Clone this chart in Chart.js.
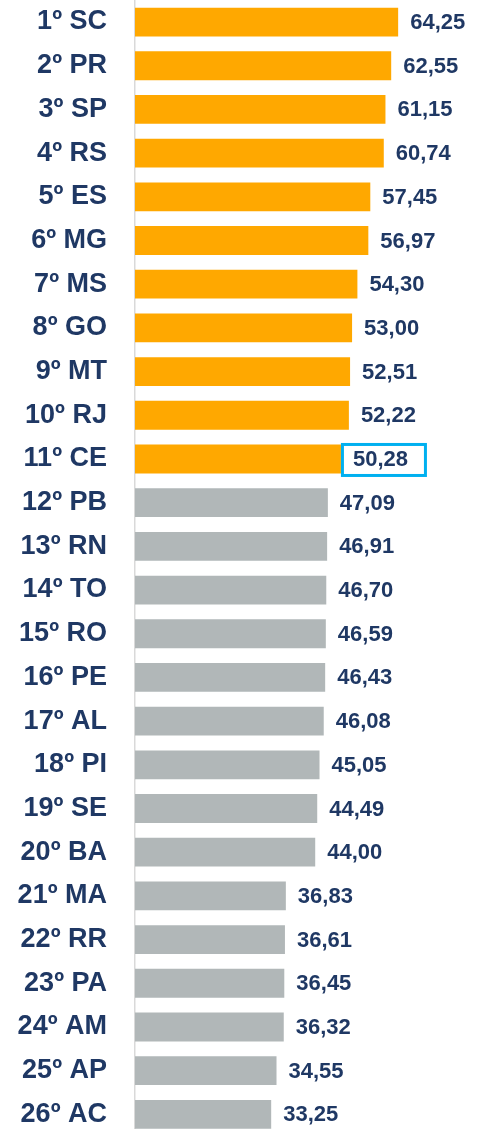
<!DOCTYPE html>
<html>
<head>
<meta charset="utf-8">
<script src="https://cdn.jsdelivr.net/npm/chart.js@4/dist/chart.umd.min.js"></script>
<style>
  html, body { margin: 0; padding: 0; background: #fff; overflow: hidden; }
  #wrap { position: relative; width: 477px; height: 1168.4px; margin-top: -16.2px; }
</style>
</head>
<body>
<div id="wrap"><canvas id="c"></canvas></div>
<script>
const categories = ["1º SC","2º PR","3º SP","4º RS","5º ES","6º MG","7º MS","8º GO","9º MT","10º RJ","11º CE","12º PB","13º RN","14º TO","15º RO","16º PE","17º AL","18º PI","19º SE","20º BA","21º MA","22º RR","23º PA","24º AM","25º AP","26º AC"];
const values = [64.25,62.55,61.15,60.74,57.45,56.97,54.30,53.00,52.51,52.22,50.28,47.09,46.91,46.70,46.59,46.43,46.08,45.05,44.49,44.00,36.83,36.61,36.45,36.32,34.55,33.25];
const topGroupCount = 11;
const highlightIndex = 10;

const ORANGE = '#FFA800';
const GRAY = '#B1B7B8';
const NAVY = '#1F3864';
const CYAN = '#00B0F0';
const FONT = '"Liberation Sans", Arial, sans-serif';

const barColors = values.map((v, i) => i < topGroupCount ? ORANGE : GRAY);

const valueLabels = {
  id: 'valueLabels',
  afterDatasetsDraw(chart) {
    const ctx = chart.ctx;
    const meta = chart.getDatasetMeta(0);
    ctx.save();
    ctx.font = 'bold 22px ' + FONT;
    ctx.fillStyle = NAVY;
    ctx.textBaseline = 'middle';
    ctx.textAlign = 'left';
    meta.data.forEach((bar, i) => {
      const txt = values[i].toFixed(2).replace('.', ',');
      ctx.fillText(txt, bar.x + 12, bar.y + 1);
      if (i === highlightIndex) {
        ctx.strokeStyle = CYAN;
        ctx.lineWidth = 3;
        ctx.strokeRect(bar.x + 1.5, bar.y - 14.5, 83, 31);
      }
    });
    ctx.restore();
  }
};

new Chart(document.getElementById('c'), {
  type: 'bar',
  data: {
    labels: categories,
    datasets: [{
      data: values,
      backgroundColor: barColors,
      borderWidth: 0,
      categoryPercentage: 1,
      barPercentage: 0.66
    }]
  },
  options: {
    indexAxis: 'y',
    responsive: true,
    maintainAspectRatio: false,
    animation: false,
    layout: { padding: 0 },
    plugins: { legend: { display: false }, tooltip: { enabled: false } },
    scales: {
      x: { display: false, min: 0, max: 83.5 },
      y: {
        afterFit(scale) { scale.width = 135; },
        grid: { display: false, drawTicks: true, tickLength: 28 },
        border: { display: true, color: '#D9D9D9', width: 1.5 },
        ticks: {
          padding: 0,
          color: NAVY,
          font: { family: FONT, size: 27, weight: 'bold' }
        }
      }
    }
  },
  plugins: [valueLabels]
});
</script>
</body>
</html>
